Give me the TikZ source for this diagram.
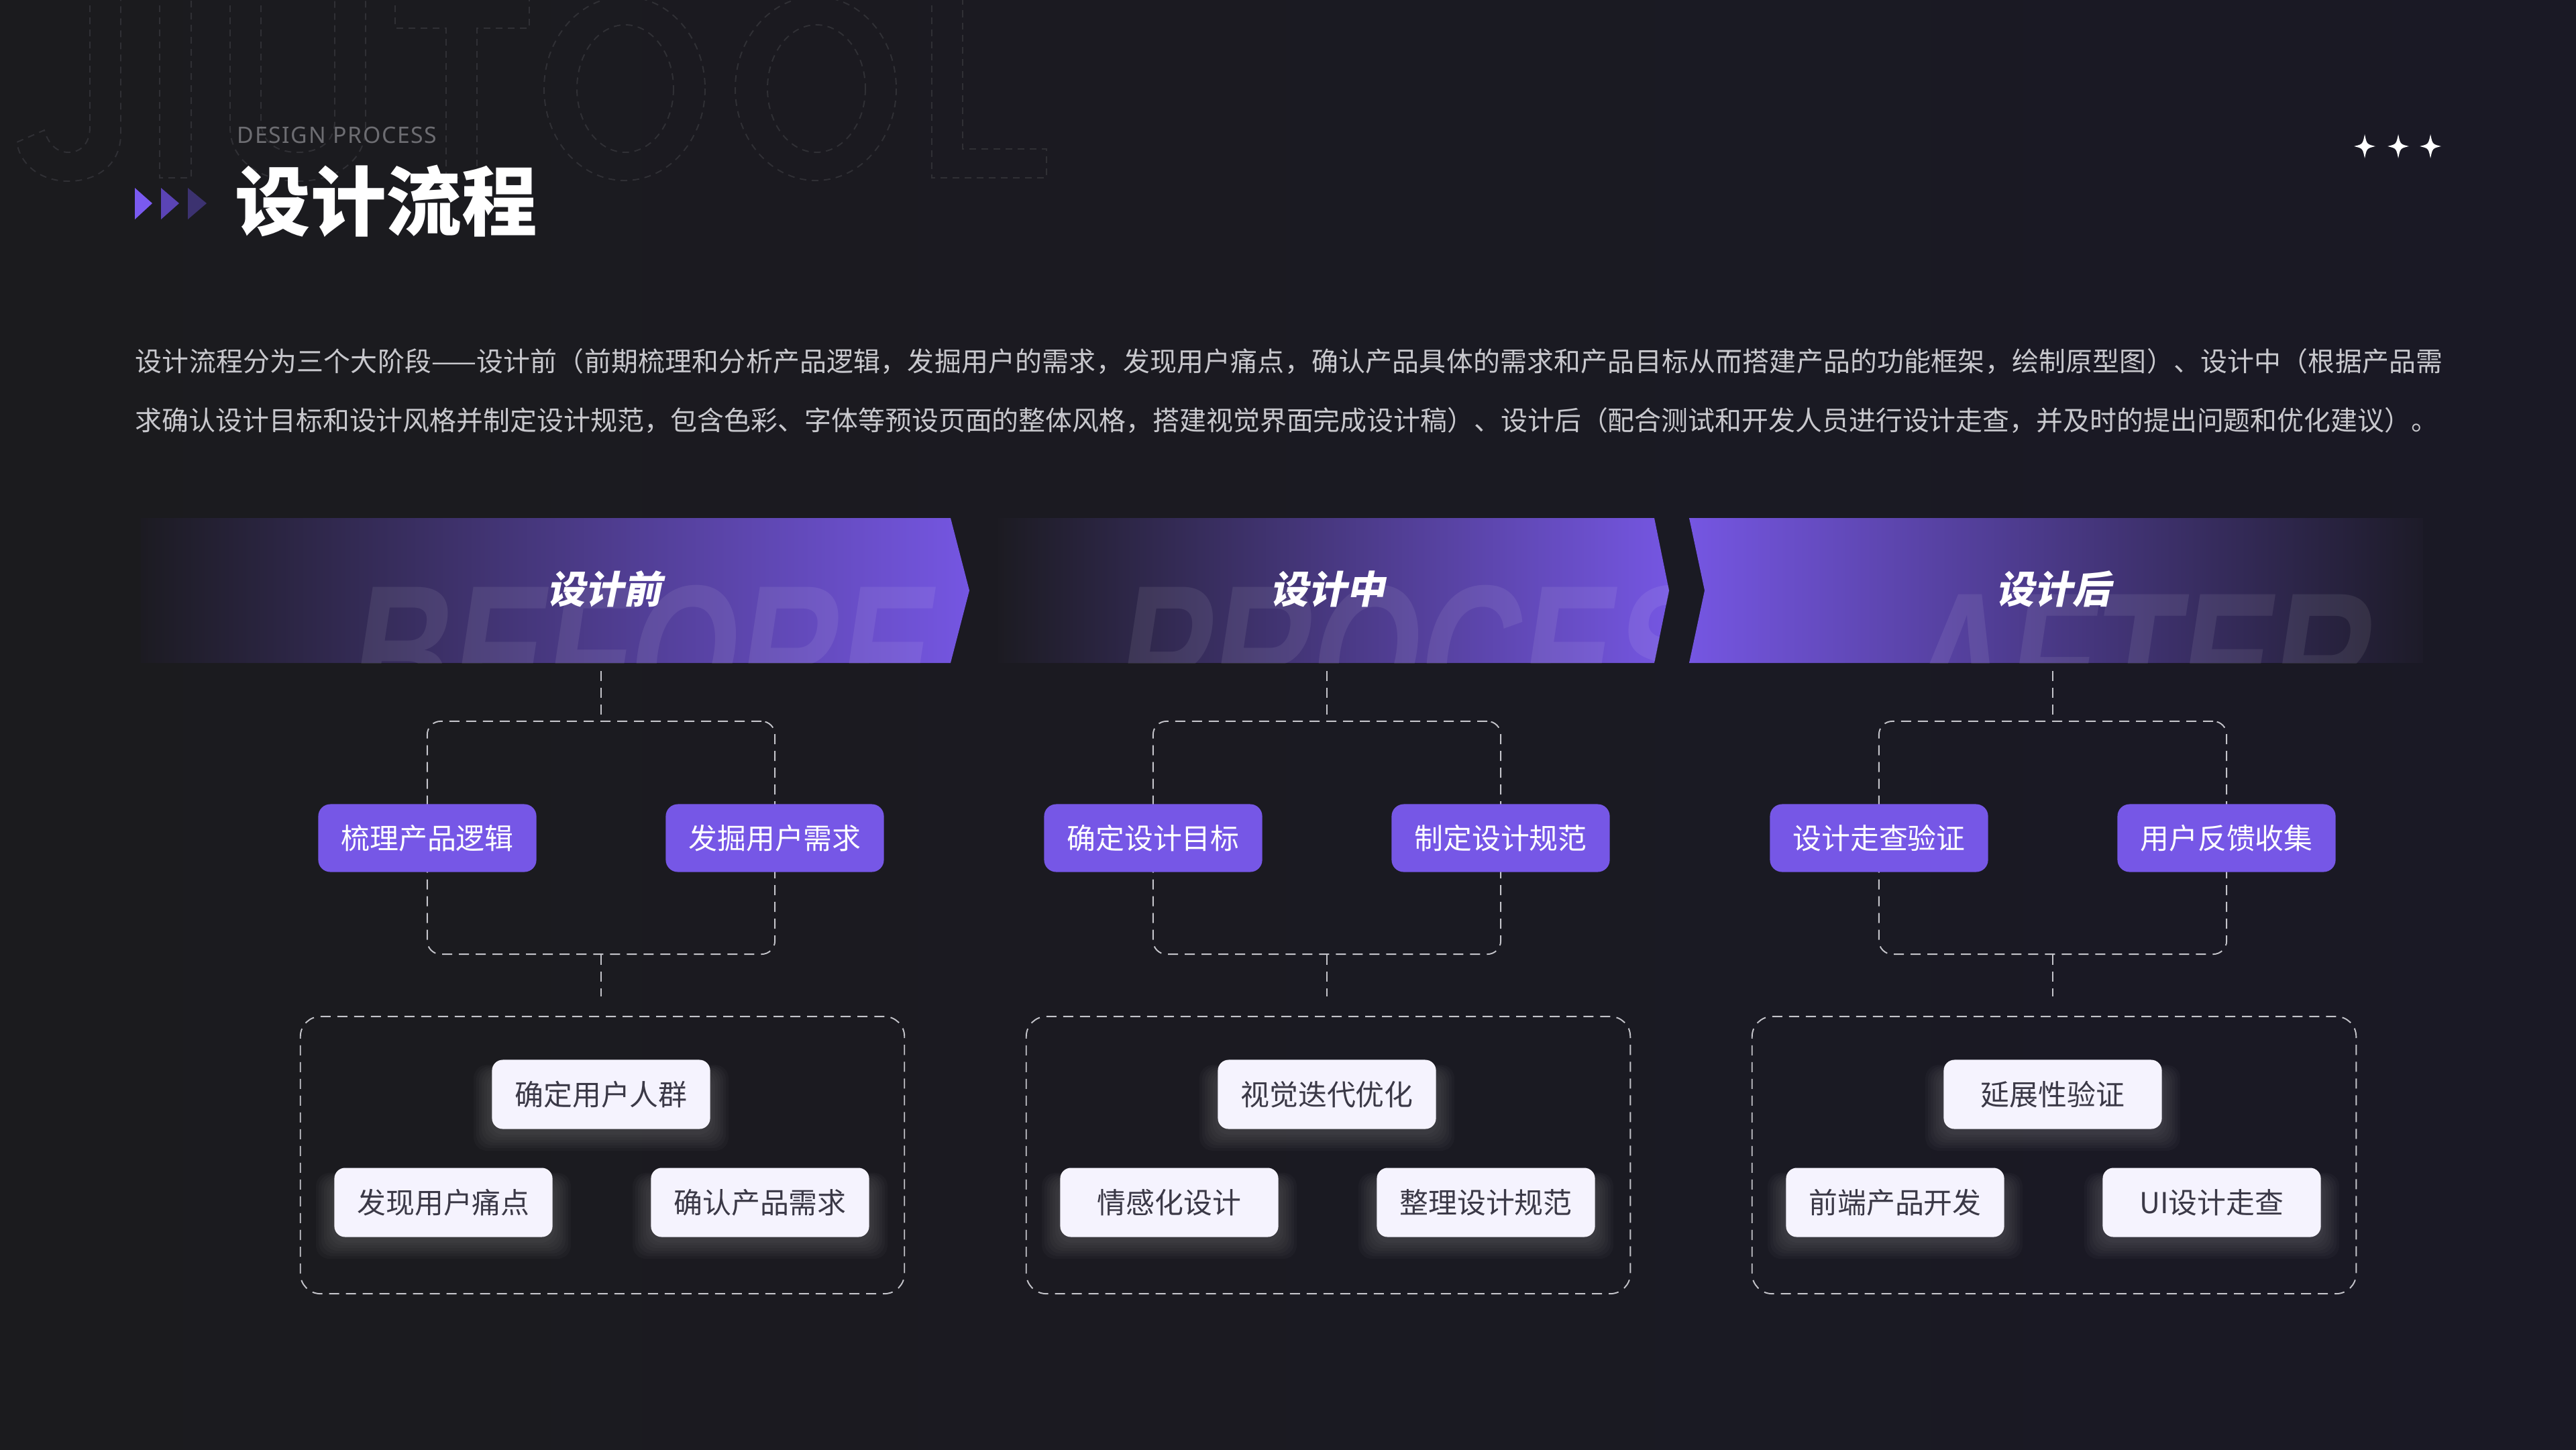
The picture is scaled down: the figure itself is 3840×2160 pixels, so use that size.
\documentclass[tikz,border=0pt]{standalone}
\usepackage{fontspec}
\setmainfont{Noto Sans CJK SC}
\newfontfamily\cjkslant[FakeSlant=0.2]{Noto Sans CJK SC}
\newfontfamily\latinsans{Noto Sans}
\newfontfamily\wmfont[FakeSlant=0.15,FakeStretch=0.72]{Liberation Sans}
\definecolor{bgA}{HTML}{1B1B1E}
\definecolor{bgB}{HTML}{1A1925}
\definecolor{bandDark}{HTML}{1C1B22}
\definecolor{bandDarkB}{HTML}{1D1B28}
\definecolor{bandPurple}{HTML}{7556E2}
\definecolor{boxpurple}{HTML}{7657E6}
\definecolor{boxwhite}{HTML}{F5F3FE}
\definecolor{boxtext}{HTML}{3B3947}
\definecolor{dashcol}{HTML}{C4C4CA}
\definecolor{bodytext}{HTML}{C8C8CD}
\definecolor{subtitle}{HTML}{6D6D72}
\definecolor{wmline}{HTML}{303035}
\definecolor{triA}{HTML}{7A5AF0}
\definecolor{triB}{HTML}{5B44B5}
\definecolor{triC}{HTML}{3C3270}
\newcommand\glowat[2]{%
  \foreach \i in {1,...,7}{%
    \fill[white,opacity=0.022,rounded corners=0.2cm]
      ({#1-162-4*\i},{#2-30-2*\i}) rectangle ({#1+162+4*\i},{#2+56+4*\i});}}
\newcommand\sparkle[2]{%
  \fill[white] ({#1},{#2-18}) .. controls ({#1+3},{#2-3}) .. ({#1+16},{#2})
    .. controls ({#1+3},{#2+3}) .. ({#1},{#2+18})
    .. controls ({#1-3},{#2+3}) .. ({#1-16},{#2})
    .. controls ({#1-3},{#2-3}) .. cycle;}
\begin{document}
\begin{tikzpicture}[x=0.01cm,y=-0.01cm,
  pbox/.style={rounded corners=0.18cm, fill=boxpurple, text=white,
    minimum width=3.25cm, minimum height=1.01cm, inner sep=0pt,
    font=\fontsize{12.2pt}{14pt}\selectfont},
  wbox/.style={rounded corners=0.16cm, fill=boxwhite, text=boxtext,
    minimum width=3.25cm, minimum height=1.03cm, inner sep=0pt,
    font=\fontsize{12.2pt}{14pt}\selectfont},
  grp/.style={draw=dashcol, line width=0.55pt, dash pattern=on 0.15cm off 0.1cm,
    rounded corners=0.2cm, minimum width=5.18cm, minimum height=3.47cm, inner sep=0pt},
  lowgrp/.style={grp, minimum width=9cm, minimum height=4.13cm, rounded corners=0.3cm},
  conn/.style={draw=dashcol, line width=0.55pt, dash pattern=on 0.15cm off 0.1cm},
  bandlabel/.style={text=white, inner sep=0pt, font=\cjkslant\bfseries\fontsize{16.2pt}{18pt}\selectfont},
  wm/.style={anchor=base west, inner sep=0pt, text=white, text opacity=0.08,
    font=\wmfont\bfseries\fontsize{82pt}{82pt}\selectfont},
  wmstroke/.style={draw=wmline, line width=0.55pt, dash pattern=on 0.1cm off 0.08cm},
  bodyline/.style={anchor=west, inner sep=0pt, text=bodytext, font=\fontsize{11.35pt}{14pt}\selectfont}
]
\useasboundingbox (0,0) rectangle (3840,2160);
\begin{scope}
\clip (0,0) rectangle (3840,2160);
% background
\shade[left color=bgA, right color=bgB] (0,0) rectangle (3840,2160);

% watermark JIUTOOL (dashed outlines)
\draw[wmstroke] (134,-10) -- (134,190) .. controls (134,212) and (122,227) .. (102,227)
  .. controls (85,227) and (72,215) .. (66,194) -- (25,212)
  .. controls (30,245) and (60,270) .. (102,270)
  .. controls (145,270) and (180,245) .. (180,200) -- (180,-10);
\draw[wmstroke] (238,-10) -- (238,265) -- (285,265) -- (285,-10);
\draw[wmstroke] (343,-10) -- (343,190) .. controls (343,240) and (390,270) .. (444,270)
  .. controls (500,270) and (545,240) .. (545,190) -- (545,-10);
\draw[wmstroke] (389,-10) -- (389,180) .. controls (389,210) and (410,227) .. (444,227)
  .. controls (478,227) and (499,210) .. (499,180) -- (499,-10);
\draw[wmstroke] (589,-10) -- (589,42) -- (665,42) -- (665,265) -- (711,265) -- (711,42) -- (789,42) -- (789,-10);
\draw[wmstroke] (931,132) ellipse [x radius=120, y radius=137];
\draw[wmstroke] (932,132) ellipse [x radius=72, y radius=95];
\draw[wmstroke] (1216,132) ellipse [x radius=120, y radius=137];
\draw[wmstroke] (1217,132) ellipse [x radius=73, y radius=95];
\draw[wmstroke] (1389,-10) -- (1389,265) -- (1560,265) -- (1560,222) -- (1435,222) -- (1435,-10);

% header
\fill[triA] (201,280) -- (227,303) -- (201,327) -- cycle;
\fill[triB] (240,280) -- (267,303) -- (240,327) -- cycle;
\fill[triC] (280,280) -- (308,303) -- (280,327) -- cycle;
\node[anchor=west, inner sep=0pt, text=subtitle, font=\latinsans\fontsize{9.6pt}{11pt}\selectfont] (sub) at (353,201) {\addfontfeatures{LetterSpace=5}DESIGN PROCESS};
\node[anchor=west, inner sep=0pt, text=white, font=\bfseries\fontsize{32pt}{36pt}\selectfont] (title) at (350,300) {设计流程};
\sparkle{3525}{218}
\sparkle{3575}{218}
\sparkle{3623}{218}

% description
\node[bodyline] (desc1) at (201,539) {\addfontfeatures{LetterSpace=0.6}设计流程分为三个大阶段——设计前（前期梳理和分析产品逻辑，发掘用户的需求，发现用户痛点，确认产品具体的需求和产品目标从而搭建产品的功能框架，绘制原型图）、设计中（根据产品需};
\node[bodyline] (desc2) at (201,627) {求确认设计目标和设计风格并制定设计规范，包含色彩、字体等预设页面的整体风格，搭建视觉界面完成设计稿）、设计后（配合测试和开发人员进行设计走查，并及时的提出问题和优化建议）。};

% bands
\begin{scope}
\clip (210,772) -- (1417,772) -- (1445,880) -- (1417,988) -- (210,988) -- cycle;
\shade[left color=bandDark, right color=bandPurple] (210,772) rectangle (1445,988);
\node[wm] (wm1) at (512,1073) {BEFORE};
\end{scope}
\begin{scope}
\clip (1488,772) -- (2466,772) -- (2488,880) -- (2466,988) -- (1488,988) -- cycle;
\shade[left color=bandDark, right color=bandPurple] (1488,772) rectangle (2488,988);
\node[wm] (wm2) at (1655,1073) {PROCESS};
\end{scope}
\begin{scope}
\clip (2518,772) -- (3612,772) -- (3612,988) -- (2518,988) -- (2541,880) -- cycle;
\shade[left color=bandPurple, right color=bandDarkB] (2518,772) rectangle (3612,988);
\node[wm] (wm3) at (2832,1084) {AFTER};
\end{scope}
\node[bandlabel] (lab1) at (901,878) {设计前};
\node[bandlabel] (lab2) at (1979,878) {设计中};
\node[bandlabel] (lab3) at (3061,878) {设计后};

% columns
\foreach \cx/\k/\pa/\pb/\wa/\wb/\wc in {
  896/1/梳理产品逻辑/发掘用户需求/确定用户人群/发现用户痛点/确认产品需求,
  1978/2/确定设计目标/制定设计规范/视觉迭代优化/情感化设计/整理设计规范,
  3060/3/设计走查验证/用户反馈收集/延展性验证/前端产品开发/UI设计走查}{
  \coordinate (top\k) at (\cx,1000);
  \node[grp] (grp\k) at (\cx,1248.5) {};
  \draw[conn] (top\k) -- (grp\k.north);
  \coordinate (end\k) at (\cx,1485);
  \draw[conn] (grp\k.south) -- (end\k);
  \node[lowgrp] (low\k) at ({\cx+2},1721.5) {};
  \node[pbox] (pa\k) at ({\cx-259},1249) {\pa};
  \node[pbox] (pb\k) at ({\cx+259},1249) {\pb};
  \glowat{\cx}{1631}
  \glowat{\cx-235}{1792}
  \glowat{\cx+237}{1792}
  \node[wbox] (wa\k) at (\cx,1631) {\wa};
  \node[wbox] (wb\k) at ({\cx-235},1792) {\wb};
  \node[wbox] (wc\k) at ({\cx+237},1792) {\wc};
}
\end{scope}
\end{tikzpicture}
\end{document}
